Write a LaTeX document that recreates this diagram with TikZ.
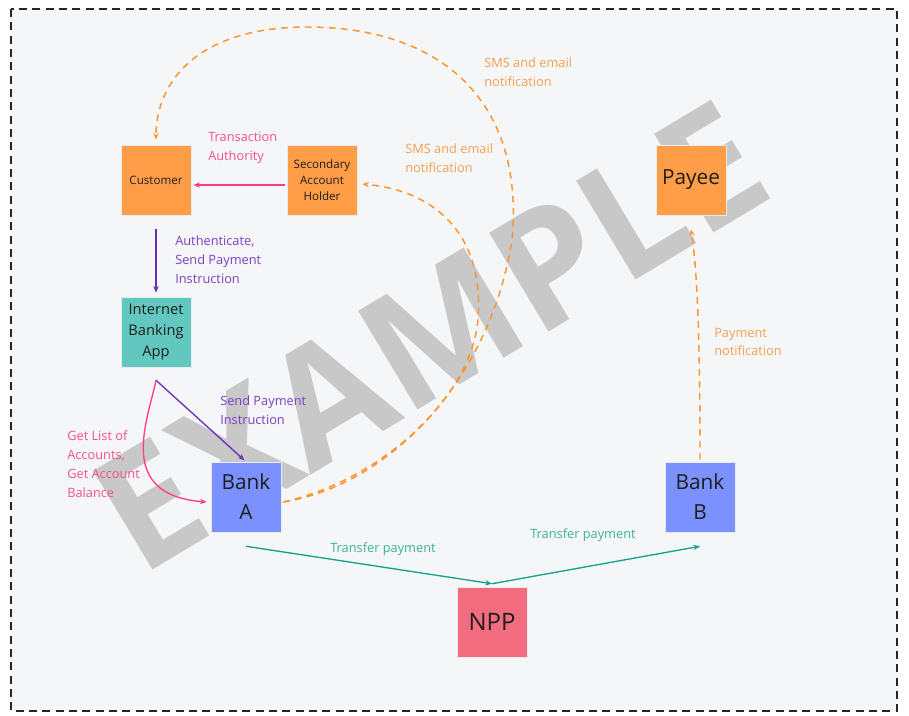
\documentclass[tikz,border=0pt]{standalone}
\usepackage{fontspec}
\setmainfont{Open Sans}
\usetikzlibrary{arrows.meta}
\definecolor{bg}{HTML}{F5F6F8}
\definecolor{sticky}{HTML}{FF9D48}
\definecolor{tealbox}{HTML}{62C8BF}
\definecolor{bluebox}{HTML}{7B91FF}
\definecolor{redbox}{HTML}{F16C7F}
\definecolor{orln}{HTML}{FA9530}
\definecolor{orlb}{HTML}{F5A050}
\definecolor{pkln}{HTML}{FF3D80}
\definecolor{pklb}{HTML}{F4528A}
\definecolor{puln}{HTML}{6A2FB8}
\definecolor{pulb}{HTML}{7B3FC4}
\definecolor{tlln}{HTML}{14A38A}
\definecolor{tllb}{HTML}{3BB394}
\definecolor{wm}{HTML}{C8C8C8}
\definecolor{ink}{HTML}{1E1E1E}
\begin{document}
\begin{tikzpicture}[x=0.75pt,y=-0.75pt,
  box/.style={minimum width=52.5pt,minimum height=52.5pt,inner sep=1pt,align=center,text=ink,draw=black!8,line width=0.4pt},
  smallt/.style={font=\fontsize{8.7}{12}\selectfont},
  midt/.style={font=\fontsize{11}{15.4}\selectfont},
  bigt/.style={font=\fontsize{15.6}{22.5}\selectfont},
  lbl/.style={anchor=west,align=left,inner sep=0pt,font=\fontsize{9.6}{14.2}\selectfont},
  tip/.style={-{Stealth[length=5pt,width=4pt]}},
  orarr/.style={tip,draw=orln,line width=1.1pt,dash pattern=on 5pt off 4pt},
  pkarr/.style={tip,draw=pkln,line width=1pt},
  puarr/.style={tip,draw=puln,line width=1pt},
  tlarr/.style={tip,draw=tlln,line width=1pt}]
\useasboundingbox (0,0) rectangle (909,715);
\fill[white] (0,0) rectangle (909,715);
\fill[bg] (11,9) rectangle (897,711);
\draw[black!85,line width=1.5pt,dash pattern=on 6pt off 4pt] (11,9) rectangle (897,711);
% watermark
\node[rotate=31,text=wm,inner sep=0pt,font=\fontsize{121}{121}\selectfont\bfseries] (wmark) at (430,336) {EXAMPLE};
% nodes
\node[box,smallt,fill=sticky] (cust) at (156,180) {Customer};
\node[box,smallt,fill=sticky] (sec) at (322,180) {Secondary\\Account\\Holder};
\node[box,midt,fill=tealbox] (iba) at (156,332) {Internet\\Banking\\App};
\node[box,bigt,fill=bluebox] (bankA) at (246,497) {Bank\\A};
\node[box,bigt,fill=bluebox] (bankB) at (700,497) {Bank\\B};
\node[box,bigt,fill=sticky] (payee) at (691,180) {Payee};
\node[box,fill=redbox,font=\fontsize{18}{22}\selectfont] (npp) at (492,622) {NPP};
% connectors
\draw[pkarr,shorten <=1.5pt,shorten >=1.5pt] ([yshift=-3.75pt]sec.west) -- ([yshift=-3.75pt]cust.east);
\draw[puarr,shorten <=10.5pt,shorten >=3pt] (cust.south) -- (iba.north);
\coordinate (ibaout) at ([yshift=-9.75pt]iba.south);
\draw[puarr,shorten >=1.5pt] (ibaout) -- (bankA.north);
\draw[pkarr] (ibaout) .. controls (148,420) and (115,495) .. ([xshift=-3pt,yshift=-3.75pt]bankA.west);
\coordinate (nppin) at ([yshift=2.25pt]npp.north);
\draw[tlarr] ([yshift=-10.5pt]bankA.south) -- (nppin);
\draw[tlarr] (nppin) -- ([yshift=-10.5pt]bankB.south);
\draw[orarr] ([yshift=1.5pt]bankB.north) .. controls (700,330) and (697,270) .. ([yshift=-10.5pt]payee.south);
\coordinate (aout) at ([xshift=1.5pt,yshift=-3.75pt]bankA.east);
\draw[orarr] (aout) .. controls (380,480) and (470,400) .. (478,320) .. controls (485,230) and (430,190) .. ([xshift=3.75pt,yshift=-3pt]sec.east);
\draw[orarr] (aout) .. controls (390,485) and (490,380) .. (512,240) .. controls (525,100) and (440,27) .. (307,27) .. controls (200,27) and (156,80) .. ([yshift=3.75pt]cust.north);
% labels
\node[lbl,text=pklb] (l1) at (208,148) {Transaction\\Authority};
\node[lbl,text=pulb] (l2) at (175,259.5) {Authenticate,\\Send Payment\\Instruction};
\node[lbl,text=pulb] (l3) at (220,410.5) {Send Payment\\Instruction};
\node[lbl,text=pklb] (l4) at (67,464) {Get List of\\Accounts,\\Get Account\\Balance};
\node[lbl,text=orlb] (l5) at (484,72.5) {SMS and email\\notification};
\node[lbl,text=orlb] (l6) at (405,158.5) {SMS and email\\notification};
\node[lbl,text=orlb] (l7) at (714,342) {Payment\\notification};
\node[lbl,text=tllb] (l8) at (330,549) {Transfer payment};
\node[lbl,text=tllb] (l9) at (530,535) {Transfer payment};
\end{tikzpicture}
\end{document}
